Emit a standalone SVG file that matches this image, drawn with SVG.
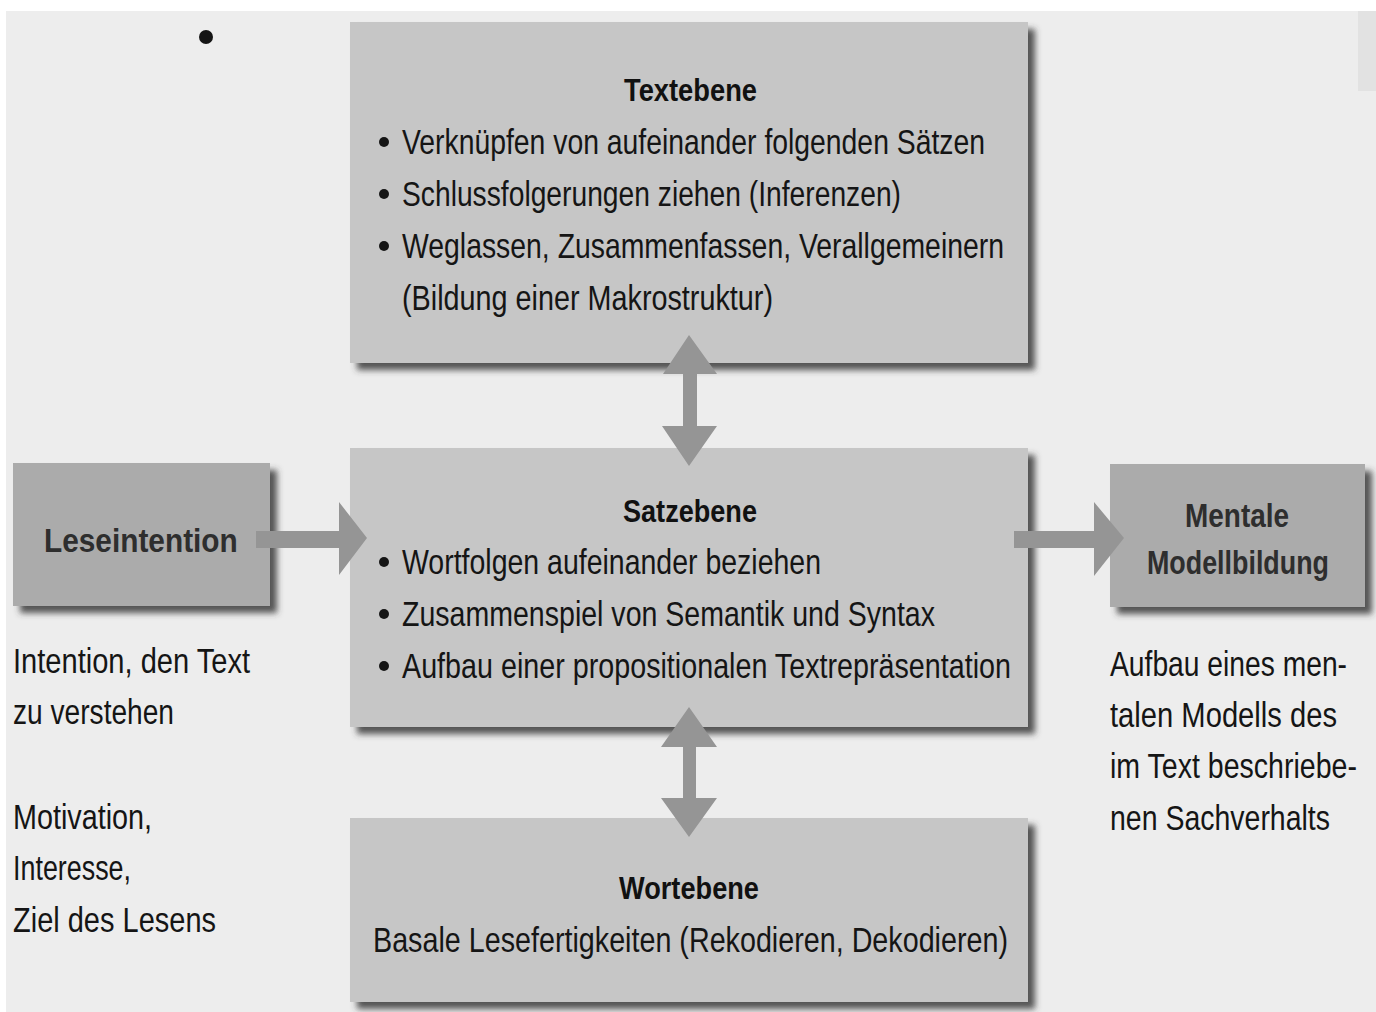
<svg xmlns="http://www.w3.org/2000/svg" width="1376" height="1012" viewBox="0 0 1376 1012">
  <defs>
    <filter id="shadow" x="-10%" y="-10%" width="125%" height="130%">
      <feDropShadow dx="7" dy="7" stdDeviation="3" flood-color="#3a3a3a" flood-opacity="0.85"/>
    </filter>
    <style>
      .main { fill: #c6c6c6; filter: url(#shadow); }
      .side { fill: #ababab; filter: url(#shadow); }
      .arrow { fill: #959595; }
      .title { font-family: "Liberation Sans", Arial, sans-serif; font-weight: bold; font-size: 31px; fill: #111; }
      .sidetitle { font-family: "Liberation Sans", Arial, sans-serif; font-weight: bold; font-size: 34px; fill: #2e2e2e; }
      .body { font-family: "Liberation Sans", Arial, sans-serif; font-size: 36px; fill: #151515; }
      .dot { fill: #151515; }
    </style>
  </defs>

  <rect x="0" y="0" width="1376" height="1012" fill="#ffffff"/>
  <rect x="6" y="11" width="1370" height="1001" fill="#ededed"/>
  <rect x="1358" y="11" width="18" height="80" fill="#e2e2e2"/>

  <circle cx="206" cy="37" r="7" class="dot"/>

  <g id="textebene">
    <rect class="main" x="350" y="22" width="678" height="341"/>
    <text class="title" transform="translate(624,101) scale(0.85,1)" textLength="156.5" lengthAdjust="spacingAndGlyphs">Textebene</text>
    <circle class="dot" cx="384" cy="142" r="5"/>
    <text class="body" transform="translate(402,154) scale(0.8,1)" textLength="728.75" lengthAdjust="spacingAndGlyphs">Verknüpfen von aufeinander folgenden Sätzen</text>
    <circle class="dot" cx="384" cy="194" r="5"/>
    <text class="body" transform="translate(402,206) scale(0.8,1)" textLength="623.75" lengthAdjust="spacingAndGlyphs">Schlussfolgerungen ziehen (Inferenzen)</text>
    <circle class="dot" cx="384" cy="246" r="5"/>
    <text class="body" transform="translate(402,258) scale(0.8,1)" textLength="752.5" lengthAdjust="spacingAndGlyphs">Weglassen, Zusammenfassen, Verallgemeinern</text>
    <text class="body" transform="translate(402,310) scale(0.8,1)" textLength="463.75" lengthAdjust="spacingAndGlyphs">(Bildung einer Makrostruktur)</text>
  </g>

  <g id="satzebene">
    <rect class="main" x="350" y="448" width="678" height="279"/>
    <text class="title" transform="translate(623,522) scale(0.85,1)" textLength="157.6" lengthAdjust="spacingAndGlyphs">Satzebene</text>
    <circle class="dot" cx="384" cy="562" r="5"/>
    <text class="body" transform="translate(402,574) scale(0.8,1)" textLength="523.75" lengthAdjust="spacingAndGlyphs">Wortfolgen aufeinander beziehen</text>
    <circle class="dot" cx="384" cy="614" r="5"/>
    <text class="body" transform="translate(402,626) scale(0.8,1)" textLength="666.25" lengthAdjust="spacingAndGlyphs">Zusammenspiel von Semantik und Syntax</text>
    <circle class="dot" cx="384" cy="666" r="5"/>
    <text class="body" transform="translate(402,678) scale(0.8,1)" textLength="761.25" lengthAdjust="spacingAndGlyphs">Aufbau einer propositionalen Textrepräsentation</text>
  </g>

  <g id="wortebene">
    <rect class="main" x="350" y="818" width="678" height="184"/>
    <text class="title" transform="translate(619,899) scale(0.85,1)" textLength="164.7" lengthAdjust="spacingAndGlyphs">Wortebene</text>
    <text class="body" transform="translate(373,952) scale(0.8,1)" textLength="793.75" lengthAdjust="spacingAndGlyphs">Basale Lesefertigkeiten (Rekodieren, Dekodieren)</text>
  </g>

  <g id="leseintention">
    <rect class="side" x="13" y="463" width="257" height="143"/>
    <text class="sidetitle" transform="translate(44,552) scale(0.85,1)" textLength="228" lengthAdjust="spacingAndGlyphs">Leseintention</text>
  </g>

  <g id="mentale-modellbildung">
    <rect class="side" x="1110" y="464" width="255" height="143"/>
    <text class="sidetitle" transform="translate(1185,527) scale(0.85,1)" textLength="122.4" lengthAdjust="spacingAndGlyphs">Mentale</text>
    <text class="sidetitle" transform="translate(1147,574) scale(0.85,1)" textLength="214.1" lengthAdjust="spacingAndGlyphs">Modellbildung</text>
  </g>

  <g id="note-leseintention">
    <text class="body" transform="translate(13,673) scale(0.8,1)" textLength="296.25" lengthAdjust="spacingAndGlyphs">Intention, den Text</text>
    <text class="body" transform="translate(13,724) scale(0.8,1)" textLength="201.25" lengthAdjust="spacingAndGlyphs">zu verstehen</text>
    <text class="body" transform="translate(13,829) scale(0.8,1)" textLength="173.75" lengthAdjust="spacingAndGlyphs">Motivation,</text>
    <text class="body" transform="translate(13,880) scale(0.8,1)" textLength="147.5" lengthAdjust="spacingAndGlyphs">Interesse,</text>
    <text class="body" transform="translate(13,932) scale(0.8,1)" textLength="253.75" lengthAdjust="spacingAndGlyphs">Ziel des Lesens</text>
  </g>

  <g id="note-modell">
    <text class="body" transform="translate(1110,676) scale(0.8,1)" textLength="296.25" lengthAdjust="spacingAndGlyphs">Aufbau eines men-</text>
    <text class="body" transform="translate(1110,727) scale(0.8,1)" textLength="283.75" lengthAdjust="spacingAndGlyphs">talen Modells des</text>
    <text class="body" transform="translate(1110,778) scale(0.8,1)" textLength="308.75" lengthAdjust="spacingAndGlyphs">im Text beschriebe-</text>
    <text class="body" transform="translate(1110,830) scale(0.8,1)" textLength="275" lengthAdjust="spacingAndGlyphs">nen Sachverhalts</text>
  </g>

  <g id="connectors">
    <polygon class="arrow" points="256,531 339,531 339,502 367,538 339,575 339,548 256,548"/>
    <polygon class="arrow" points="1014,531 1094,531 1094,502 1124,538 1094,576 1094,548 1014,548"/>
    <polygon class="arrow" points="689,335 717,374 697,374 697,426 717,426 689,466 662,426 683,426 683,374 663,374"/>
    <polygon class="arrow" points="689,707 717,747 696,747 696,798 717,798 689,837 661,798 683,798 683,747 661,747"/>
  </g>
</svg>
